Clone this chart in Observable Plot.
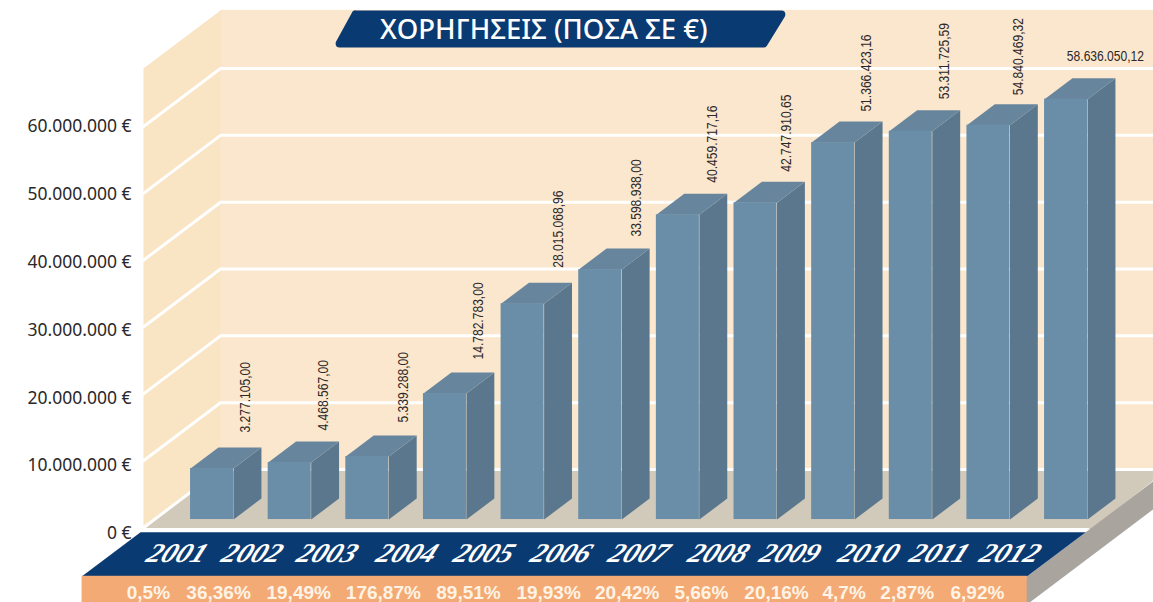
<!DOCTYPE html>
<html lang="el">
<head>
<meta charset="utf-8">
<script src="https://cdn.jsdelivr.net/npm/d3@7"></script>
<script src="https://cdn.jsdelivr.net/npm/@observablehq/plot@0.6"></script>
<style>
html,body{margin:0;padding:0;background:#fff;overflow:hidden}
svg{display:block}
</style>
</head>
<body>
<div id="chart"></div>
<script>
// ---- data ----
const years = [2001,2002,2003,2004,2005,2006,2007,2008,2009,2010,2011,2012];
const amountLabels = ["3.277.105,00","4.468.567,00","5.339.288,00","14.782.783,00","28.015.068,96","33.598.938,00","40.459.717,16","42.747.910,65","51.366.423,16","53.311.725,59","54.840.469,32","58.636.050,12"];
// bar heights as drawn, read against the picture's own axis (they do not follow the printed amounts)
const drawnHeights = [7.63e6,8.53e6,9.43e6,18.85e6,32.3e6,37.4e6,45.6e6,47.4e6,56.4e6,58.1e6,59.0e6,62.9e6];
const changeLabels = ["0,5%","36,36%","19,49%","176,87%","89,51%","19,93%","20,42%","5,66%","20,16%","4,7%","2,87%","6,92%"];
const yTicks = [0,1e7,2e7,3e7,4e7,5e7,6e7];
const yTickLabels = ["0 €","10.000.000 €","20.000.000 €","30.000.000 €","40.000.000 €","50.000.000 €","60.000.000 €"];
const title = "ΧΟΡΗΓΗΣΕΙΣ (ΠΟΣΑ ΣΕ €)";

// ---- layout ----
const pxPerYear = 77.64, pxPerEuro = 6.683e-6;
const depthX = 77 / pxPerYear, depthY = 58 / pxPerEuro;     // one full unit of oblique depth
const at = (x, v, d) => ({x: x + d * depthX, y: v + d * depthY});
const barHalf = 0.277, barD0 = 0.138, barD1 = 0.5;
const xWall = 2000.254, xEnd = 2013.263, wallTop = 68.7e6;
const colors = {back:"#fbe7cd", left:"#f9e4c3", floor:"#d1c9b9", front:"#6b8ea8", top:"#67869e", side:"#5a778d",
                blue:"#0a3a72", orange:"#f3aa74", grey:"#a9a59e", ink:"#2b2829"};
const yearLabelNudge = [-24,-26.5,-29,-27,-27.5,-28,-28,-26,-32,-31,-38,-45];
const changeLabelNudge = [-53,-60.5,-58,-51,-43.5,-41,-40,-43.5,-46,-56,-70.5,-78];
const amountNudge = [0,0,2,0,2,2,1,-3,0,0,-4];
const amountLift = [3,-1,1,1,3,0,-1,-2,-2,-1,-3];

const bars = years.map((year,i) => ({year, h: drawnHeights[i], amount: amountLabels[i], i}));
const face = (pts, fill, extra={}) => Plot.line(pts, {x:"x", y:"y", fill, stroke:"none", ...extra});
const prismFaces = (fn) => bars.flatMap(b => fn(b).map((p) => ({...p, z:b.year})));

const topFaces = prismFaces(b => {
  const l=b.year-barHalf, r=b.year+barHalf;
  return [at(l,b.h,barD0),at(r,b.h,barD0),at(r,b.h,barD1),at(l,b.h,barD1)];
});
const sideFaces = prismFaces(b => {
  const r=b.year+barHalf;
  return [at(r,0,barD0),at(r,b.h,barD0),at(r,b.h,barD1),at(r,0,barD1)];
});

const slabLeft = 2000.216, slabRight = 2012.39, slabV = -0.7e6;
const gridLines = yTicks.slice(1).flatMap(v => [at(xWall,v,0),at(xWall,v,1),at(xEnd,v,1)].map(p => ({...p,z:v})));
const floorRim = [at(xWall,0,1),at(xWall-0.03,-0.3e6,0),at(slabRight+0.03,-0.3e6,0)];
const badge = [{x:2002.985,y:76.76e6},{x:2008.47,y:76.76e6},{x:2008.24,y:72.42e6},{x:2002.78,y:72.42e6},{x:2002.985,y:76.76e6}];

const plot = Plot.plot({
  width:1153, height:602,
  marginLeft:143, marginRight:0, marginTop:0, marginBottom:0,
  x:{domain:[xWall,xEnd], axis:null},
  y:{domain:[-11.22e6,78.86e6]},
  style:{background:"transparent", fontFamily:"'Noto Sans',sans-serif", overflow:"hidden"},
  marks:[
    // walls
    Plot.rect([0],{x1:xWall+depthX,x2:xEnd,y1:0+depthY,y2:wallTop+depthY,fill:colors.back}),
    face([at(xWall,0,0),at(xWall,wallTop,0),at(xWall,wallTop,1),at(xWall,0,1)],colors.left),
    // floor
    face([at(xWall,-0.3e6,0),at(xWall,0,1),at(xEnd-depthX,0,1),at(slabRight+0.07,0,0.8),at(slabRight+0.07,-0.3e6,0)],colors.floor),
    // gridlines
    Plot.line(gridLines,{x:"x",y:"y",z:"z",stroke:"#fff",strokeWidth:3,strokeLinejoin:"miter"}),
    Plot.line([at(xWall+depthX,0,0),at(xEnd,0,0)].map(p=>({x:p.x,y:depthY})),{x:"x",y:"y",stroke:"#fff",strokeWidth:3}),
    Plot.line(floorRim,{x:"x",y:"y",stroke:"#fff",strokeWidth:3}),
    // slab in front of the floor
    face([at(slabRight,slabV,-0.76),at(slabRight,slabV,0.9),at(slabRight,-4.9e6,0.9),at(slabRight,-4.9e6,-1.1)],colors.grey),
    face([at(slabLeft,slabV,0),at(slabLeft,slabV,-0.76),at(slabRight,slabV,-0.76),at(slabRight,slabV,0)],colors.blue),
    Plot.rect([0],{x1:at(slabLeft,0,-0.76).x,x2:at(slabRight,0,-0.76).x,y1:slabV-0.76*depthY,y2:-11.22e6,fill:colors.orange}),
    // bars
    Plot.line(sideFaces,{x:"x",y:"y",z:"z",fill:colors.side,stroke:"none"}),
    Plot.line(topFaces,{x:"x",y:"y",z:"z",fill:colors.top,stroke:"none"}),
    Plot.rect(bars,{
      x1:d=>at(d.year-barHalf,0,barD0).x, x2:d=>at(d.year+barHalf,0,barD0).x,
      y1:d=>at(0,0,barD0).y, y2:d=>at(0,d.h,barD0).y, fill:colors.front
    }),
    // amounts
    Plot.text(bars.slice(0,11),{
      x:d=>d.year+(44+amountNudge[d.i])/pxPerYear, y:d=>at(0,d.h,barD1).y+amountLift[d.i]/pxPerEuro, text:"amount", rotate:-90,
      textAnchor:"start", dy:-12, lineAnchor:"middle",
      fontFamily:"'Liberation Sans',sans-serif", fontSize:15.5, fill:colors.ink
    }),
    Plot.text(bars.slice(11),{
      x:d=>d.year+(50/pxPerYear), y:d=>at(0,d.h,barD1).y, text:"amount", dy:-22,
      fontFamily:"'Liberation Sans',sans-serif", fontSize:15.5, fill:colors.ink
    }),
    // years
    Plot.text(years,{
      x:(d,i)=>d+yearLabelNudge[i]/pxPerYear, y:[...years].fill(-3.89e6), text:d=>String(d),
      fontFamily:"'Liberation Serif',serif", fontWeight:700, fontStyle:"italic", fontSize:27, fill:"#fff"
    }),
    // yearly change
    Plot.text(changeLabels,{
      x:(d,i)=>years[i]+changeLabelNudge[i]/pxPerYear, y:[...years].fill(-9.725e6), text:d=>d,
      fontFamily:"'Liberation Sans',sans-serif", fontWeight:700, fontSize:19, fill:"#fff3e6"
    }),
    // title badge
    Plot.line(badge,{x:"x",y:"y",fill:colors.blue,stroke:colors.blue,strokeWidth:8,strokeLinejoin:"round"}),
    Plot.text([title],{
      x:[2005.41], y:[74.37e6], text:d=>d,
      fontFamily:"'Noto Sans',sans-serif", fontWeight:500, fontSize:27.5, fill:"#fff"
    }),
    // value axis
    Plot.axisY({
      ticks: yTicks.map(v => v*1.0145 - 0.9e6),
      tickFormat: (t) => yTickLabels[Math.round((t+0.9e6)/1.0145/1e7)],
      tickSize:0, tickPadding:12, label:null, anchor:"left",
      fontSize:17.5, fontFamily:"'Noto Sans',sans-serif", fill:colors.ink
    })
  ]
});
const texts = d3.select(plot).selectAll("text");
texts.filter(function(){return /^20\d\d$/.test(this.textContent)})
  .attr("transform",function(){return this.getAttribute("transform")+" skewX(-24) scale(1.08,1)"});
texts.filter(function(){return amountLabels.includes(this.textContent)})
  .attr("transform",function(){return this.getAttribute("transform")+" scale(0.78,1)"});
document.getElementById("chart").appendChild(plot);
</script>
</body>
</html>
